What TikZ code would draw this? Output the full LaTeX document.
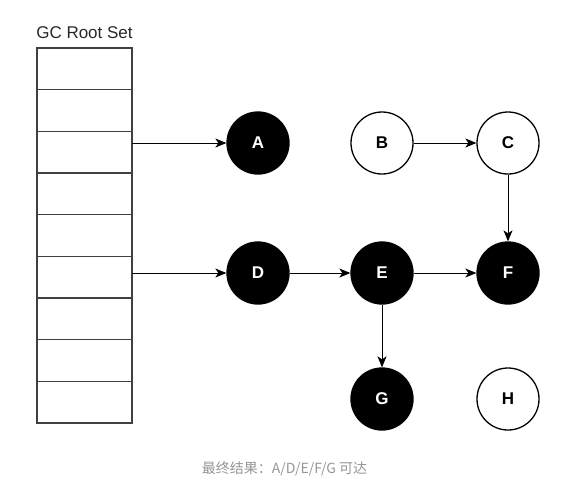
\documentclass[tikz,border=0pt]{standalone}
\usepackage{fontspec}
\setmainfont{Liberation Sans}
\newfontfamily\cjkfont{Noto Sans CJK SC}
\usetikzlibrary{arrows.meta, positioning}
\definecolor{captiongray}{RGB}{150,150,150}
\definecolor{titlegray}{RGB}{40,40,40}
\begin{document}
\begin{tikzpicture}[x=1pt, y=-1pt,
    obj/.style={circle, draw=black, line width=1.3pt, minimum size=62pt, inner sep=0pt, font=\fontsize{17}{17}\selectfont\bfseries},
    live/.style={obj, fill=black, text=white},
    dead/.style={obj, fill=white, text=black},
    rootcell/.style={draw=black!75, line width=1.5pt, minimum width=95pt, minimum height=41.67pt, inner sep=0pt, outer sep=0pt},
    ref/.style={-{Stealth[length=11pt, width=9pt, inset=3pt]}, line width=1pt}]
    \useasboundingbox (0,0) rectangle (581,499);

    % Root set
    \node[font=\fontsize{17}{17}\selectfont, text=titlegray] (title) at (84.5,33) {GC Root Set};
    \foreach \i in {1,...,9}
        \node[rootcell] (r\i) at (84.5, 27.17+41.67*\i) {};

    % Objects
    \node[live] (A) at (258,143) {A};
    \node[dead] (B) at (382,143) {B};
    \node[dead] (C) at (508,143) {C};
    \node[live] (D) at (258,273) {D};
    \node[live] (E) at (382,273) {E};
    \node[live] (F) at (508,273) {F};
    \node[live] (G) at (382,399) {G};
    \node[dead] (H) at (508,399) {H};

    % References
    \draw[ref] (r3.east |- A) -- (A);
    \draw[ref] (r6.east |- D) -- (D);
    \draw[ref] (B) -- (C);
    \draw[ref] (C) -- (F);
    \draw[ref] (D) -- (E);
    \draw[ref] (E) -- (F);
    \draw[ref] (E) -- (G);

    % Result
    \node[font=\cjkfont\fontsize{14}{14}\selectfont, text=captiongray] (result) at (284.5,469) {最终结果：A/D/E/F/G 可达};
\end{tikzpicture}
\end{document}
